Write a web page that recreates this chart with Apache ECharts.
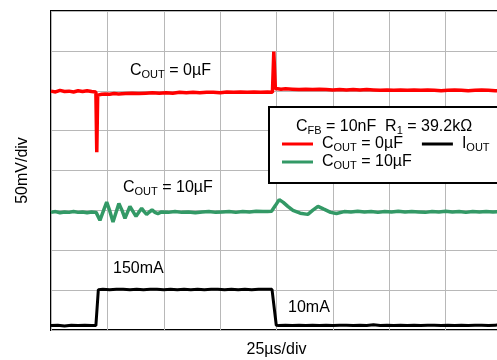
<!DOCTYPE html>
<html>
<head>
<meta charset="utf-8">
<script src="https://cdn.jsdelivr.net/npm/echarts@6/dist/echarts.min.js"></script>
<style>
html,body{margin:0;padding:0;background:#fff;}
#chart{width:497px;height:360px;}
</style>
</head>
<body>
<div id="chart"></div>
<script>
// ---- data (time in µs, amplitude in divisions) ----
const xDivisions = [0, 25, 50, 75, 100, 125, 150, 175, 200];
const yDivisions = [0, 1, 2, 3, 4, 5, 6, 7, 8];

const redT = [0,2,4,6,8,10,12,14,16,18,19.9,20.3,20.7,21.2,22.5,24,26,28,30,33,36,39,42,45,48,51,54,57,60,63,66,69,72,75,78,81,84,87,90,93,96,98.2,98.8,99.5,100.5,102,104,107,110,113,116,119,122,125,128,131,134,137,140,143,146,149,152,155,158,161,164,167,170,173,176,179,182,185,188,191,194,197,200];
const redV = [5.99,5.97,6.01,5.98,5.99,5.97,6.00,5.98,6.00,5.98,
  5.97,4.46,5.89,5.90,5.91,5.92,5.91,5.93,5.92,
  5.93,5.94,5.93,5.94,5.95,5.94,5.95,5.94,5.96,5.95,5.96,5.95,5.96,5.96,5.95,5.97,5.96,5.97,5.96,5.97,5.96,5.97,
  5.96,6.98,6.05,6.05,6.04,6.05,
  6.04,6.03,6.04,6.03,6.04,6.03,6.02,6.03,6.02,6.03,6.02,6.03,6.02,6.01,6.02,6.01,6.02,6.01,6.02,6.01,6.02,6.01,6.00,6.01,6.02,6.01,6.00,6.01,6.02,6.01,6.00,6.01];

const greenT = [0,2,4,6,8,10,12,14,16,18,20,20.8,21.7,23.2,24.7,26.1,27.5,28.8,30.1,31.5,32.8,33.9,35.0,36.4,37.7,39.0,40.2,41.3,42.4,43.6,44.8,46.1,47.4,49,52,55,58,61,64,67,70,73,76,79,82,85,88,91,94,96,97.8,99.5,101.2,103,105,107.3,110.5,113.9,116,118.4,121,124,126.6,130,133,136,139,142,145,148,151,154,157,160,163,166,169,172,175,178,181,184,187,190,193,196,200];
const greenV = [2.95,2.97,2.94,2.96,2.95,2.97,2.95,2.96,2.94,2.96,2.95,
  2.96,2.75,2.98,3.21,2.98,2.71,2.94,3.17,3.00,2.80,2.95,3.10,2.97,2.85,2.96,3.05,2.97,2.90,2.96,3.01,2.95,2.92,
  2.96,
  2.95,2.97,2.95,2.96,2.94,2.96,2.97,2.95,2.96,2.97,2.95,2.97,2.96,2.98,2.97,
  2.97,
  2.98,3.12,3.27,3.20,3.10,3.00,2.93,2.90,3.00,3.10,3.03,2.95,2.92,
  2.97,2.96,2.98,2.96,2.97,2.95,2.97,2.96,2.98,2.96,2.97,2.96,2.95,2.97,2.96,2.98,2.96,2.97,2.95,2.97,2.96,2.97,2.96,2.97];

const blackT = [0,3,6,9,12,15,18,19.9,20.3,21.0,23,26,29,32,35,38,41,44,47,50,53,56,59,62,65,68,71,74,77,80,83,86,89,92,95,98.0,99.9,101,104,107,110,113,116,119,122,125,128,131,134,137,140,143,146,149,152,155,158,161,164,167,170,173,176,179,182,185,188,191,194,197,200];
const blackV = [0.11,0.12,0.10,0.12,0.11,0.12,0.11,
  0.11,0.12,1.01,
  1.02,1.01,1.02,1.02,1.01,1.02,1.01,1.02,1.02,1.01,1.02,1.01,1.02,1.01,1.02,1.01,1.02,1.02,1.01,1.02,1.01,1.02,1.01,1.02,1.02,
  1.02,0.12,
  0.11,0.12,0.11,0.12,0.11,0.12,0.11,0.12,0.11,0.12,0.12,0.11,0.12,0.11,0.13,0.11,0.12,0.11,0.12,0.11,0.12,0.11,0.12,0.12,0.11,0.12,0.11,0.12,0.11,0.12,0.12,0.11,0.12,0.13];

const seriesNames = ['COUT = 0µF', 'COUT = 10µF', 'IOUT'];
const seriesColors = ['#ff0000', '#339966', '#000000'];
const richLabels = {
  'COUT = 0µF': '{m|C}{s|OUT}{m| = 0µF}',
  'COUT = 10µF': '{m|C}{s|OUT}{m| = 10µF}',
  'IOUT': '{m|I}{s|OUT}'
};

const zip = (t, v) => t.map((x, i) => [x, v[i]]);
const FONT = '"Liberation Sans", Arial, sans-serif';
const rich = {
  m: { fontSize: 16, fontFamily: FONT, color: '#000', lineHeight: 18 },
  s: { fontSize: 11, fontFamily: FONT, color: '#000', lineHeight: 12, verticalAlign: 'bottom' }
};

const chart = echarts.init(document.getElementById('chart'), null, { renderer: 'canvas' });
const option = {
  animation: false,
  backgroundColor: '#fff',
  grid: { left: 51, top: 11, right: -5, bottom: 30, show: true, borderColor: '#000', borderWidth: 2,
          backgroundColor: 'transparent', containLabel: false, outerBoundsMode: 'none' },
  xAxis: {
    type: 'value', min: xDivisions[0], max: xDivisions[xDivisions.length - 1], interval: 25,
    axisLabel: { show: false }, axisTick: { show: false }, axisLine: { show: false },
    splitLine: { show: true, lineStyle: { color: '#b8b8b8', width: 1 } },
    name: '25µs/div', nameLocation: 'middle', nameGap: 12,
    nameTextStyle: { fontSize: 16, fontFamily: FONT, color: '#000' }
  },
  yAxis: {
    type: 'value', min: yDivisions[0], max: yDivisions[yDivisions.length - 1], interval: 1,
    axisLabel: { show: false }, axisTick: { show: false }, axisLine: { show: false },
    splitLine: { show: true, lineStyle: { color: '#b8b8b8', width: 1 } },
    name: '50mV/div', nameLocation: 'middle', nameGap: 20,
    nameTextStyle: { fontSize: 16, fontFamily: FONT, color: '#000' }
  },
  legend: [
    {
      data: [seriesNames[0], seriesNames[2]], left: 282, top: 136, padding: 0, itemGap: 19,
      icon: 'rect', itemWidth: 31, itemHeight: 3, selectedMode: false, z: 10,
      formatter: n => richLabels[n], textStyle: { rich: rich, padding: [0, 0, 0, 4] }
    },
    {
      data: [seriesNames[1]], left: 282, top: 154, padding: 0,
      icon: 'rect', itemWidth: 31, itemHeight: 3, selectedMode: false, z: 10,
      formatter: n => richLabels[n], textStyle: { rich: rich, padding: [0, 0, 0, 4] }
    }
  ],
  graphic: [
    { type: 'rect', z: 5, shape: { x: 269, y: 107, width: 260, height: 76 },
      style: { fill: '#fff', stroke: '#000', lineWidth: 2 } },
    { type: 'text', z: 6, x: 384, y: 127,
      style: { text: '{m|C}{s|FB}{m| = 10nF  R}{s|1}{m| = 39.2kΩ}', rich: rich, align: 'center', verticalAlign: 'middle' } },
    { type: 'text', z: 6, x: 130, y: 71,
      style: { text: '{m|C}{s|OUT}{m| = 0µF}', rich: rich, align: 'left', verticalAlign: 'middle' } },
    { type: 'text', z: 6, x: 123, y: 188,
      style: { text: '{m|C}{s|OUT}{m| = 10µF}', rich: rich, align: 'left', verticalAlign: 'middle' } },
    { type: 'text', z: 6, x: 113, y: 269,
      style: { text: '{m|150mA}', rich: rich, align: 'left', verticalAlign: 'middle' } },
    { type: 'text', z: 6, x: 288, y: 308,
      style: { text: '{m|10mA}', rich: rich, align: 'left', verticalAlign: 'middle' } }
  ],
  series: [
    { name: seriesNames[0], type: 'line', data: zip(redT, redV), showSymbol: false, symbol: 'none', silent: true,
      lineStyle: { color: seriesColors[0], width: 3.5 }, itemStyle: { color: seriesColors[0] } },
    { name: seriesNames[1], type: 'line', data: zip(greenT, greenV), showSymbol: false, symbol: 'none', silent: true,
      lineStyle: { color: seriesColors[1], width: 3.5 }, itemStyle: { color: seriesColors[1] } },
    { name: seriesNames[2], type: 'line', data: zip(blackT, blackV), showSymbol: false, symbol: 'none', silent: true,
      lineStyle: { color: seriesColors[2], width: 3 }, itemStyle: { color: seriesColors[2] } }
  ]
};
chart.setOption(option);
</script>
</body>
</html>
